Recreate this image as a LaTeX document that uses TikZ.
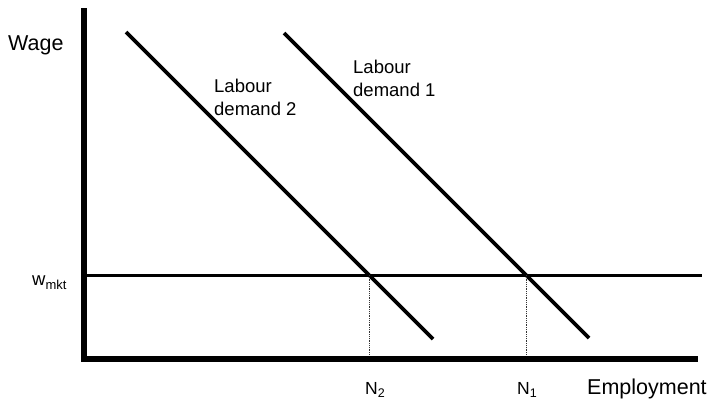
\documentclass[tikz,border=0pt]{standalone}
\usepackage{fontspec}
\setmainfont{Liberation Sans}
\begin{document}
\begin{tikzpicture}[x=1bp,y=-1bp,
  axisline/.style={line width=6bp,line cap=butt},
  demandline/.style={line width=3.6bp},
  mktline/.style={line width=3bp},
  dropline/.style={line width=0.8bp,black!80,densely dotted},
  lbl/.style={inner sep=0pt,font=\fontsize{18.5bp}{23bp}\selectfont},
  biglbl/.style={inner sep=0pt,font=\fontsize{21.5bp}{25bp}\selectfont},
  qlbl/.style={inner sep=0pt,font=\fontsize{17.5bp}{20bp}\selectfont}]
\useasboundingbox (0,0) rectangle (711,399);
% axes
\coordinate (ytop) at (84,8);
\coordinate (origin) at (84,361.5);
\coordinate (corner) at (81,358.5);
\coordinate (xend) at (698,358.5);
\draw[axisline] (ytop) -- (origin);
\draw[axisline] (corner) -- (xend);
% market wage
\coordinate (wl) at (87,275);
\coordinate (wr) at (702,275);
\draw[mktline] (wl) -- (wr);
% demand curves
\coordinate (d2s) at (126,32);
\coordinate (d2e) at (433,339);
\coordinate (d1s) at (284,33);
\coordinate (d1e) at (589,338);
\draw[demandline] (d2s) -- (d2e);
\draw[demandline] (d1s) -- (d1e);
% intersections and drop lines
\coordinate (e2) at (369,275);
\coordinate (e1) at (526,275);
\coordinate (b2) at (369,355.5);
\coordinate (b1) at (526,355.5);
\draw[dropline] (e2) -- (b2);
\draw[dropline] (e1) -- (b1);
% labels
\node[biglbl,anchor=base west] (wage) at (8,50) {Wage};
\node[biglbl,anchor=base west] (emp) at (587,394) {Employment};
\node[lbl,anchor=base west] (wmkt) at (32,285) {w\raisebox{-4bp}{\fontsize{13bp}{13bp}\selectfont mkt}};
\node[lbl,anchor=base west] (ld2) at (214,92) {\begin{tabular}[t]{@{}l@{}}Labour\\demand 2\end{tabular}};
\node[lbl,anchor=base west] (ld1) at (353,73) {\begin{tabular}[t]{@{}l@{}}Labour\\demand 1\end{tabular}};
\node[qlbl,anchor=base west] (n2) at (365,394) {N\raisebox{-3bp}{\fontsize{12.5bp}{12.5bp}\selectfont 2}};
\node[qlbl,anchor=base west] (n1) at (517,394) {N\raisebox{-3bp}{\fontsize{12.5bp}{12.5bp}\selectfont 1}};
\end{tikzpicture}
\end{document}
